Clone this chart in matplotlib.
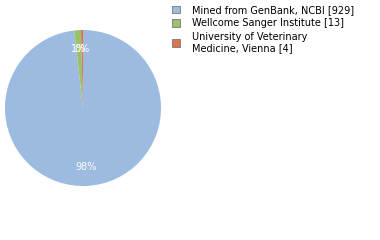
import matplotlib
matplotlib.use("Agg")
import matplotlib.pyplot as plt
from matplotlib.patches import Patch

labels = ["Mined from GenBank, NCBI [929]", "Wellcome Sanger Institute [13]",
          "University of Veterinary\nMedicine, Vienna [4]"]
values = [929, 13, 4]
colors = ["#9dbbe0", "#9bc16a", "#e0734f"]

fig = plt.figure(figsize=(3.8, 2.4), dpi=100)
ax = fig.add_axes([5/380, (132-78)/240, 156/380, 156/240])
total = sum(values)
wedges, texts = ax.pie(values, colors=colors, startangle=90, counterclock=False,
                       labels=[f"{round(v/total*100)}%" for v in values],
                       labeldistance=0.76,
                       textprops=dict(color="white", fontsize=7, ha="center", va="center"),
                       wedgeprops=dict(linewidth=0))
ax.set_xlim(-1, 1)
ax.set_ylim(-1, 1)
ax.set_aspect("equal")

handles = [Patch(facecolor=c, edgecolor="#777777", linewidth=0.6) for c in colors]
fig.legend(handles, labels, loc="upper left", bbox_to_anchor=(167/380, 1.0),
           frameon=False, fontsize=7, handlelength=0.8, handleheight=0.8,
           handletextpad=1.3, labelspacing=0.35, borderaxespad=0.1)
fig.savefig("out.png", dpi=100)
